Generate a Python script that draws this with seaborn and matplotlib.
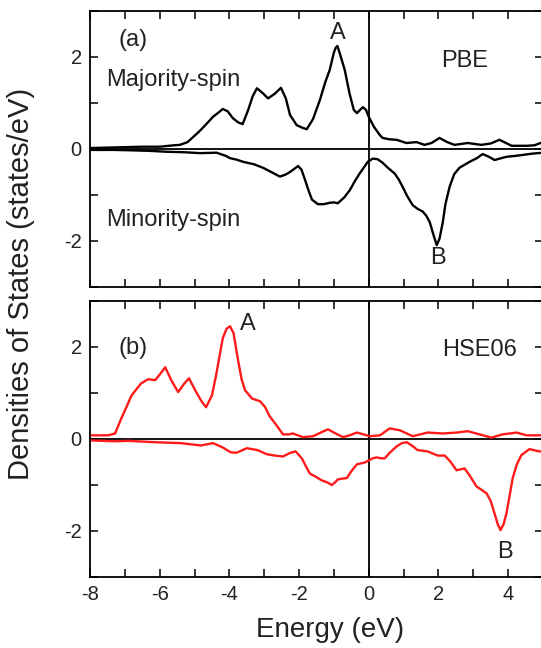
"""Densidade de estados PBE x HSE06 (spin majoritário/minoritário)."""

import matplotlib

matplotlib.use("Agg")
import matplotlib.pyplot as plt
import pandas as pd
import seaborn as sns
from matplotlib.ticker import MultipleLocator

# ---------------------------------------------------------------------------
# Dados
# ---------------------------------------------------------------------------

pbe_up_e = [-8.0, -7.5, -7.0, -6.5, -6.0, -5.6, -5.42, -5.2, -5.04, -4.84, -4.64, -4.47,
            -4.3, -4.19, -4.05, -3.9, -3.75, -3.62, -3.46, -3.33, -3.21, -3.05, -2.89,
            -2.7, -2.52, -2.38, -2.26, -2.07, -1.9, -1.78, -1.6, -1.4, -1.25, -1.12, -1.0,
            -0.95, -0.9, -0.82, -0.69, -0.55, -0.43, -0.34, -0.25, -0.17, -0.08, 0.0, 0.15,
            0.32, 0.4, 0.6, 0.8, 1.08, 1.37, 1.6, 1.8, 2.03, 2.25, 2.46, 2.84, 3.23,
            3.5, 3.75, 4.1, 4.53, 4.75, 5.0]
pbe_up = [0.02, 0.03, 0.04, 0.05, 0.05, 0.08, 0.09, 0.15, 0.26, 0.4, 0.56, 0.7, 0.8, 0.87,
          0.82, 0.67, 0.58, 0.54, 0.85, 1.15, 1.32, 1.22, 1.1, 1.2, 1.33, 1.1, 0.74,
          0.52, 0.46, 0.43, 0.65, 1.07, 1.45, 1.72, 2.1, 2.2, 2.24, 2.05, 1.72, 1.2, 0.85,
          0.78, 0.85, 0.91, 0.85, 0.7, 0.48, 0.3, 0.24, 0.21, 0.2, 0.13, 0.15, 0.09,
          0.13, 0.24, 0.15, 0.09, 0.13, 0.09, 0.12, 0.2, 0.07, 0.07, 0.08, 0.15]

pbe_dn_e = [-8.0, -7.3, -6.76, -6.3, -5.8, -5.3, -4.84, -4.37, -4.1, -3.98, -3.8, -3.6,
            -3.3, -3.03, -2.8, -2.55, -2.4, -2.26, -2.03, -1.93, -1.83, -1.72, -1.63,
            -1.46, -1.3, -1.12, -1.0, -0.89, -0.7, -0.54, -0.4, -0.26, -0.12, -0.03,
            0.11, 0.25, 0.4, 0.55, 0.74, 0.85, 0.97, 1.1, 1.26, 1.4, 1.55, 1.65, 1.75,
            1.85, 1.95, 2.03, 2.12, 2.2, 2.32, 2.45, 2.6, 2.89, 3.1, 3.27, 3.45, 3.61,
            3.8, 3.95, 4.2, 4.41, 4.7, 5.0]
pbe_dn = [-0.02, -0.02, -0.03, -0.04, -0.06, -0.07, -0.09, -0.08, -0.15, -0.2, -0.23,
          -0.28, -0.33, -0.41, -0.5, -0.6, -0.56, -0.5, -0.37, -0.45, -0.67, -0.92,
          -1.1, -1.2, -1.2, -1.17, -1.16, -1.18, -1.05, -0.89, -0.7, -0.53, -0.38,
          -0.28, -0.21, -0.22, -0.3, -0.41, -0.53, -0.65, -0.82, -1.02, -1.22, -1.3,
          -1.36, -1.45, -1.59, -1.85, -2.09, -1.95, -1.61, -1.2, -0.82, -0.55, -0.41,
          -0.28, -0.2, -0.11, -0.17, -0.24, -0.2, -0.17, -0.15, -0.13, -0.1, -0.08]

hse_up_e = [-8.0, -7.7, -7.48, -7.28, -7.1, -6.95, -6.82, -6.65, -6.53, -6.33, -6.13,
            -6.0, -5.84, -5.67, -5.47, -5.3, -5.16, -4.96, -4.8, -4.67, -4.5, -4.38,
            -4.19, -4.08, -3.98, -3.88, -3.76, -3.65, -3.55, -3.35, -3.12, -2.98, -2.84,
            -2.65, -2.46, -2.3, -2.18, -1.89, -1.6, -1.35, -1.17, -0.95, -0.74, -0.55,
            -0.34, -0.15, 0.03, 0.32, 0.6, 0.89, 1.26, 1.69, 2.12, 2.52, 2.84, 3.18,
            3.52, 3.84, 4.24, 4.53, 4.9, 5.0]
hse_up = [0.08, 0.08, 0.08, 0.12, 0.45, 0.7, 0.93, 1.1, 1.21, 1.3, 1.28, 1.4, 1.56, 1.28,
          1.02, 1.2, 1.32, 1.03, 0.82, 0.69, 0.95, 1.39, 2.19, 2.4, 2.45, 2.3, 1.75,
          1.3, 1.06, 0.88, 0.82, 0.7, 0.49, 0.3, 0.1, 0.1, 0.12, 0.04, 0.06, 0.15,
          0.21, 0.12, 0.04, 0.08, 0.14, 0.1, 0.06, 0.08, 0.23, 0.19, 0.06, 0.14, 0.12,
          0.14, 0.17, 0.1, 0.03, 0.1, 0.14, 0.08, 0.08, 0.08]

hse_dn_e = [-8.0, -7.28, -6.9, -6.13, -5.39, -4.82, -4.47, -4.2, -3.96, -3.8, -3.5,
            -3.2, -2.93, -2.7, -2.46, -2.25, -2.1, -1.92, -1.8, -1.69, -1.5, -1.35,
            -1.2, -1.06, -0.95, -0.89, -0.75, -0.63, -0.5, -0.34, -0.11, 0.11, 0.23,
            0.35, 0.46, 0.6, 0.8, 0.95, 1.09, 1.25, 1.4, 1.69, 1.98, 2.18, 2.35, 2.52,
            2.75, 2.9, 3.09, 3.38, 3.5, 3.61, 3.7, 3.78, 3.87, 3.95, 4.05, 4.13, 4.25,
            4.38, 4.61, 4.9, 5.0]
hse_dn = [-0.03, -0.05, -0.04, -0.07, -0.09, -0.14, -0.09, -0.18, -0.29, -0.3, -0.2,
          -0.24, -0.33, -0.36, -0.38, -0.3, -0.27, -0.42, -0.6, -0.75, -0.83, -0.9,
          -0.94, -1.0, -0.93, -0.88, -0.86, -0.85, -0.7, -0.55, -0.51, -0.42, -0.4,
          -0.42, -0.42, -0.3, -0.16, -0.09, -0.07, -0.15, -0.24, -0.27, -0.36, -0.36,
          -0.5, -0.68, -0.64, -0.8, -1.03, -1.18, -1.35, -1.62, -1.85, -1.98, -1.85,
          -1.62, -1.2, -0.85, -0.55, -0.35, -0.22, -0.27, -0.27]

x_ticks = [-8, -6, -4, -2, 0, 2, 4]
y_ticks = [-2, 0, 2]

COR_TEXTO = "#222222"


def _serie(energias, valores, rotulo):
    return pd.DataFrame({"energia": energias, "dos": valores, "spin": rotulo})


# ---------------------------------------------------------------------------
# Figura
# ---------------------------------------------------------------------------

sns.set_theme(style="ticks")
plt.rcParams["font.family"] = ["Liberation Sans", "DejaVu Sans"]
plt.rcParams["axes.unicode_minus"] = False
plt.rcParams["text.color"] = COR_TEXTO
plt.rcParams["xtick.color"] = "black"
plt.rcParams["ytick.color"] = "black"
plt.rcParams["xtick.labelcolor"] = COR_TEXTO
plt.rcParams["ytick.labelcolor"] = COR_TEXTO

fig = plt.figure(figsize=(5.41, 6.48), dpi=100)
ax_a = fig.add_axes([90 / 541, 1 - 287 / 648, 453 / 541, 276 / 648])
ax_b = fig.add_axes([90 / 541, 1 - 577 / 648, 453 / 541, 276 / 648])

paineis = [
    (ax_a, pbe_up_e, pbe_up, pbe_dn_e, pbe_dn, "black"),
    (ax_b, hse_up_e, hse_up, hse_dn_e, hse_dn, "#ff1a1a"),
]

for ax, e_up, up, e_dn, dn, cor in paineis:
    df = pd.concat([_serie(e_up, up, "up"), _serie(e_dn, dn, "down")])
    sns.lineplot(
        data=df, x="energia", y="dos", units="spin", estimator=None, sort=False,
        color=cor, linewidth=1.7, ax=ax, legend=False,
    )
    ax.axhline(0, color="black", linewidth=1.3, zorder=1)
    ax.axvline(0, color="black", linewidth=1.3, zorder=1)
    ax.set_xlim(-8, 5)
    ax.set_ylim(-3, 3)
    ax.xaxis.set_major_locator(MultipleLocator(2))
    ax.xaxis.set_minor_locator(MultipleLocator(1))
    ax.set_yticks(y_ticks)
    ax.yaxis.set_minor_locator(MultipleLocator(1))
    ax.tick_params(which="both", direction="in", top=True, right=True,
                   length=6, width=1.1, labelsize=14.5, pad=6)
    for lado in ax.spines.values():
        lado.set_linewidth(1.3)
        lado.set_color("black")
    ax.set_xlabel("")
    ax.set_ylabel("")

ax_a.tick_params(labelbottom=False)
ax_b.set_xticks(x_ticks)

kw = dict(fontsize=17, color=COR_TEXTO, ha="center", va="center")
ax_a.text(-6.77, 2.37, "(a)", **kw)
ax_a.text(-5.6, 1.5, "Majority-spin", **kw)
ax_a.text(-5.6, -1.54, "Minority-spin", **kw)
ax_a.text(-0.89, 2.52, "A", **kw)
ax_a.text(2.75, 1.91, "PBE", **kw)
ax_a.text(1.98, -2.37, "B", **kw)

ax_b.text(-6.77, 1.97, "(b)", **kw)
ax_b.text(-3.47, 2.5, "A", **kw)
ax_b.text(3.18, 1.93, "HSE06", **kw)
ax_b.text(3.9, -2.45, "B", **kw)

fig.text(21 / 541, 1 - 284 / 648, "Densities of States (states/eV)", rotation=90,
         fontsize=21, color=COR_TEXTO, ha="center", va="center")
fig.text(330 / 541, 1 - 630 / 648, "Energy (eV)", fontsize=20, color=COR_TEXTO,
         ha="center", va="center")

fig.savefig("out.png", dpi=100)
